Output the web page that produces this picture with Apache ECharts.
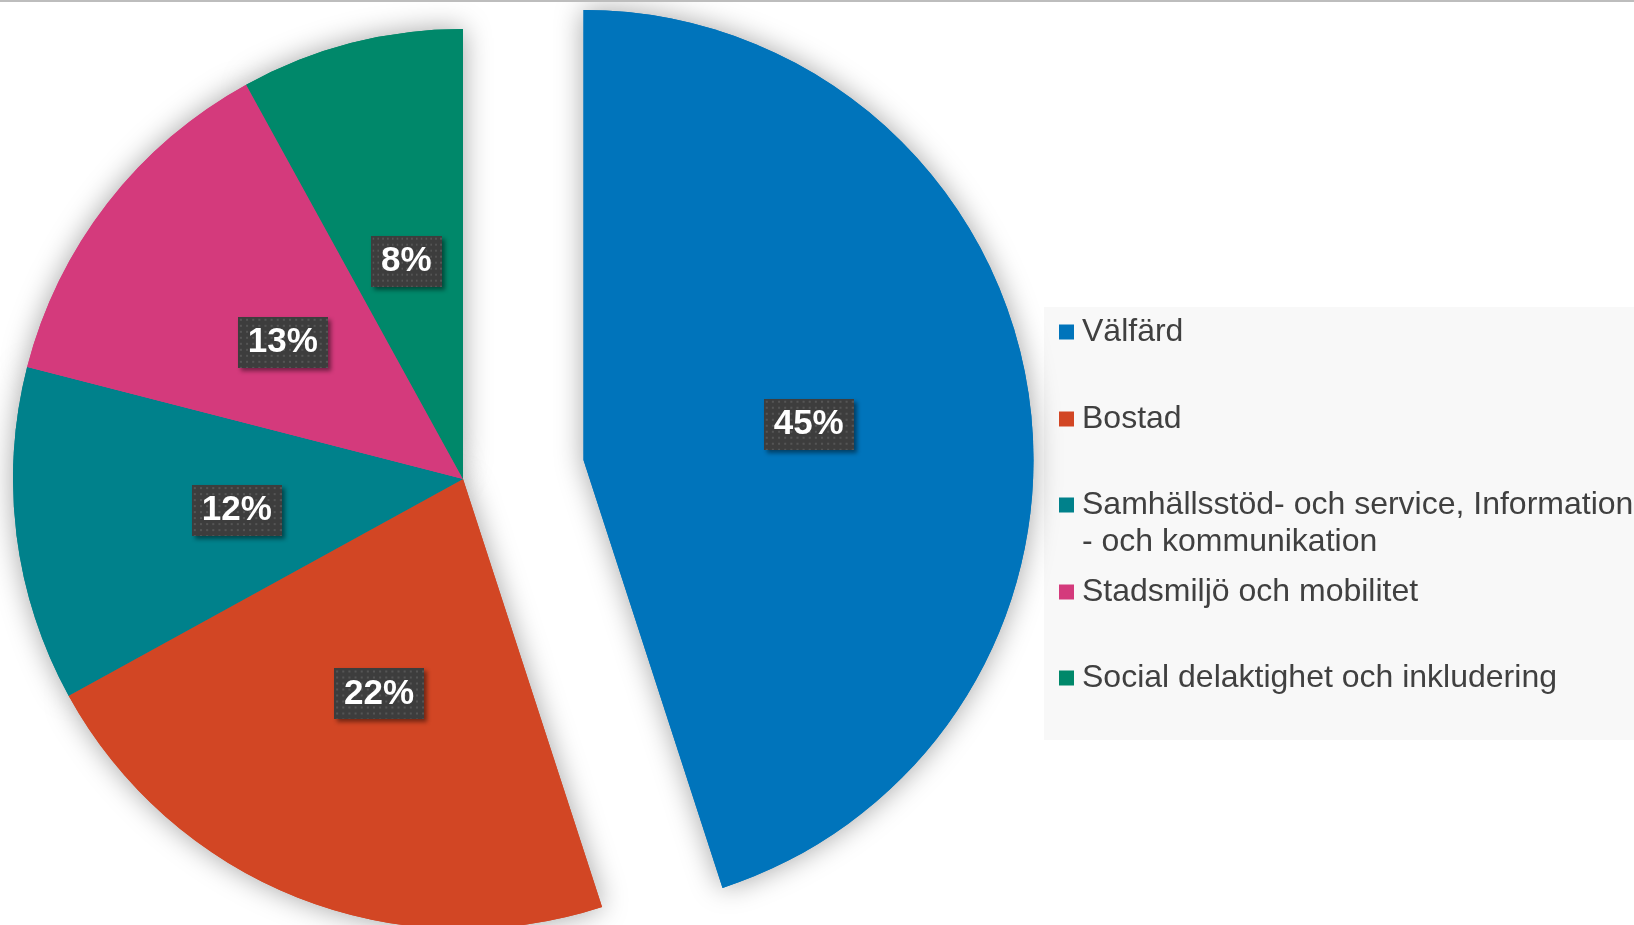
<!DOCTYPE html>
<html>
<head>
<meta charset="utf-8">
<title>Fördelning per område</title>
<script src="https://cdn.jsdelivr.net/npm/echarts@6/dist/echarts.min.js"></script>
<style>
  html, body { margin: 0; padding: 0; background: #fff; }
  #chart { width: 1634px; height: 925px; }
</style>
</head>
<body>
<div id="chart"></div>
<script>
// data
const categories = [
  'Välfärd',
  'Bostad',
  'Samhällsstöd- och service, Information - och kommunikation',
  'Stadsmiljö och mobilitet',
  'Social delaktighet och inkludering'
];
const shares = [45, 22, 12, 13, 8];
const sliceColors = ['#0074bb', '#d24624', '#00818b', '#d43a7c', '#00886a'];
const explodedName = 'Välfärd';

// dotted background for the value labels
const makeDots = () => {
  const c = document.createElement('canvas');
  c.width = 88;
  c.height = 51;
  const ctx = c.getContext('2d');
  ctx.fillStyle = '#3d3d3d';
  ctx.fillRect(0, 0, c.width, c.height);
  ctx.fillStyle = '#555555';
  for (let y = 2; y < c.height; y += 6) {
    for (let x = 2; x < c.width; x += 6) {
      ctx.fillRect(x, y, 2, 2);
    }
  }
  return c;
};
const dots = makeDots();

const pieData = categories.map((name, i) => ({
  name,
  value: shares[i],
  selected: name === explodedName,
  itemStyle: { color: sliceColors[i] }
}));

const basePie = {
  type: 'pie',
  center: [463, 479],
  radius: 450,
  startAngle: 90,
  clockwise: true,
  selectedMode: 'single',
  selectedOffset: 122,
  avoidLabelOverlap: false,
  labelLine: { show: false },
  emphasis: { scale: false, disabled: true },
  select: { itemStyle: { borderWidth: 0 } }
};

// one legend per entry so the wrapped entry keeps the even spacing
// (a leading empty line keeps the icon level with the first text line)
const legendCenters = [332, 419, 505, 592, 678];
const legends = categories.map((name, i) => {
  const wrapped = name.indexOf('Information - ') >= 0;
  return {
    data: [name],
    orient: 'vertical',
    left: 1059,
    top: legendCenters[i] - (wrapped ? 55.5 : 18.5),
    padding: 0,
    itemWidth: 15,
    itemHeight: 15,
    icon: 'rect',
    selectedMode: false,
    formatter: n => wrapped ? '\n' + n.replace('Information - ', 'Information\n- ') : n,
    textStyle: {
      fontFamily: 'Liberation Sans, Arial, sans-serif',
      fontSize: 32,
      color: '#404040',
      lineHeight: 37,
      padding: [0, 0, 0, 3]
    }
  };
});

const chart = echarts.init(document.getElementById('chart'));
chart.setOption({
  animation: false,
  backgroundColor: '#ffffff',
  graphic: [
    {
      type: 'rect',
      z: -10,
      shape: { x: 1044, y: 307, width: 590, height: 433 },
      style: { fill: '#f8f8f8' }
    },
    {
      type: 'line',
      z: 100,
      shape: { x1: 0, y1: 1, x2: 1634, y2: 1 },
      style: { stroke: '#bdbdbd', lineWidth: 2 }
    }
  ],
  legend: legends,
  series: [
    // shadow layer underneath
    Object.assign({}, basePie, {
      name: 'skugga',
      silent: true,
      z: 1,
      label: { show: false },
      itemStyle: {
        borderWidth: 0,
        shadowBlur: 28,
        shadowColor: 'rgba(0, 0, 0, 0.36)'
      },
      data: pieData
    }),
    Object.assign({}, basePie, {
      name: 'Andel',
      z: 2,
      itemStyle: { borderWidth: 0 },
      label: {
        show: true,
        position: 'inside',
        formatter: p => p.value + '%',
        color: '#ffffff',
        fontFamily: 'Liberation Sans, Arial, sans-serif',
        fontWeight: 'bold',
        fontSize: 35,
        offset: [0, 3],
        backgroundColor: { image: dots },
        padding: [8, 10],
        shadowColor: 'rgba(0, 0, 0, 0.45)',
        shadowBlur: 4,
        shadowOffsetX: 3,
        shadowOffsetY: 3
      },
      data: pieData
    })
  ]
});
</script>
</body>
</html>
